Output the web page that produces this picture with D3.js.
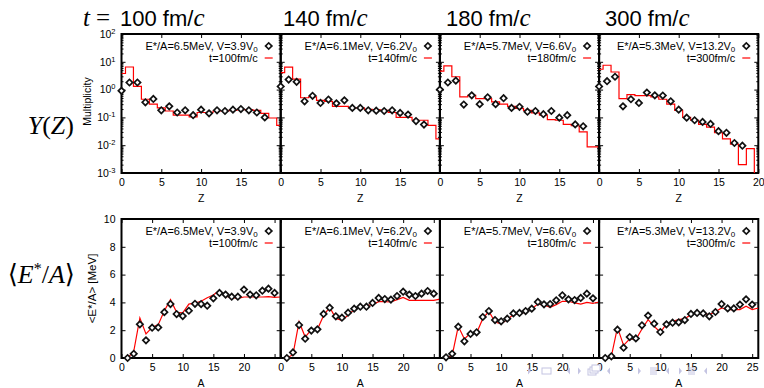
<!DOCTYPE html>
<html>
<head>
<meta charset="utf-8">
<script src="https://cdn.jsdelivr.net/npm/d3@7"></script>
<style>
  body { margin: 0; background: #fff; }
</style>
</head>
<body>
<svg id="chart" width="764" height="388" font-family='"Liberation Sans", Arial, sans-serif'></svg>
<script>
// ---- data ----
const times = ['100', '140', '180', '300'];
const legendE = ['6.5', '6.1', '5.7', '5.3'];
const legendV = ['3.9', '6.2', '6.6', '13.2'];

const zBins = [0, 1, 2, 3, 4, 5, 6, 7, 8, 9, 10, 11, 12, 13, 14, 15, 16, 17, 18, 19, 20];
const zPoints = [0, 1, 2, 3, 4, 5, 6, 7, 8, 9, 10, 11, 12, 13, 14, 15, 16, 17, 18];
const aPoints = [1, 2, 3, 4, 5, 6, 7, 8, 9, 10, 11, 12, 13, 14, 15, 16, 17, 18, 19, 20, 21, 22, 23, 24, 25];
const aLine = [1, 2, 3, 4, 5, 6, 7, 8, 9, 10, 11, 12, 13, 14, 15, 16, 17, 18, 19, 20, 21, 22, 23, 24, 25, 26];

const multTicks = [1e-3, 1e-2, 1e-1, 1, 1e1, 1e2];
const multExp = ['-3', '-2', '-1', '0', '1', '2'];
const zTicks = [0, 5, 10, 15, 20];
const aTicks = [0, 5, 10, 15, 20, 25];
const eTicks = [0, 2, 4, 6, 8, 10];

// multiplicity, diamonds (Z = 0..18)
const multPts1 = [0.9, 1.8, 1.8, 0.35, 0.46, 0.18, 0.25, 0.15, 0.18, 0.12, 0.19, 0.14, 0.18, 0.17, 0.19, 0.2, 0.18, 0.15, 0.10];
const multPts2 = [1.3, 2.3, 1.9, 0.38, 0.6, 0.33, 0.44, 0.32, 0.41, 0.22, 0.22, 0.18, 0.175, 0.17, 0.18, 0.145, 0.126, 0.074, 0.055];
const multPts3 = [1.0, 1.8, 2.1, 0.29, 0.62, 0.3, 0.53, 0.3, 0.49, 0.22, 0.24, 0.16, 0.17, 0.13, 0.17, 0.098, 0.12, 0.056, 0.048];
const multPts4 = [1.3, 2.0, 2.9, 0.25, 0.45, 0.33, 0.78, 0.62, 0.61, 0.38, 0.19, 0.098, 0.079, 0.069, 0.058, 0.032, 0.028, 0.012, 0.0096];

// multiplicity, red histogram (Z = 0..20)
const multHist1 = [3.8, 6.5, 1.3, 0.45, 0.3, 0.22, 0.17, 0.12, 0.12, 0.105, 0.15, 0.15, 0.17, 0.17, 0.18, 0.19, 0.19, 0.18, 0.14, 0.095, 0.052];
const multHist2 = [4.1, 6.4, 2.4, 0.51, 0.55, 0.41, 0.38, 0.25, 0.25, 0.22, 0.22, 0.195, 0.19, 0.18, 0.15, 0.1, 0.1, 0.079, 0.079, 0.052, 0.017];
const multHist3 = [4.6, 7.1, 2.9, 0.55, 0.62, 0.47, 0.47, 0.36, 0.3, 0.25, 0.21, 0.18, 0.145, 0.12, 0.083, 0.079, 0.056, 0.05, 0.03, 0.0087, 0.0087];
const multHist4 = [5.4, 7.5, 4.3, 0.47, 0.66, 0.61, 0.61, 0.55, 0.45, 0.3, 0.18, 0.1, 0.079, 0.056, 0.045, 0.028, 0.017, 0.011, 0.002, 0.0075, 0.0004];

// <E*/A>, diamonds (A = 1..25)
const ePts1 = [0.0, 0.3, 2.42, 1.27, 2.18, 2.2, 3.3, 3.88, 3.16, 3.02, 3.4, 3.9, 3.88, 3.76, 4.29, 4.68, 4.56, 4.41, 4.41, 4.92, 4.56, 4.51, 4.84, 4.99, 4.68];
const ePts2 = [0.0, 0.4, 2.37, 1.39, 1.97, 2.06, 3.17, 3.62, 3.0, 2.9, 3.26, 3.55, 3.69, 3.69, 3.96, 4.32, 4.24, 4.2, 4.46, 4.77, 4.56, 4.46, 4.63, 4.82, 4.63];
const ePts3 = [0.05, 0.3, 2.25, 1.2, 1.73, 1.85, 2.95, 3.38, 2.73, 2.64, 2.83, 3.21, 3.24, 3.38, 3.55, 4.03, 3.86, 3.88, 4.15, 4.51, 4.22, 4.17, 4.32, 4.63, 4.29];
const ePts4 = [0.0, 0.12, 2.04, 0.74, 1.51, 1.41, 2.35, 3.05, 2.47, 1.87, 2.42, 2.54, 2.57, 2.73, 3.17, 3.24, 3.21, 3.0, 3.31, 3.88, 3.57, 3.57, 3.84, 4.22, 3.84];

// <E*/A>, red line (A = 1..26)
const eLine1 = [0, 0.48, 2.88, 1.73, 2.2, 2.4, 3.4, 4.2, 3.29, 3.24, 3.88, 3.96, 4.08, 4.34, 4.53, 4.87, 4.44, 4.36, 4.29, 4.39, 4.39, 4.39, 4.39, 4.41, 4.36, 4.39];
const eLine2 = [0, 0.24, 2.61, 1.51, 2.04, 2.06, 3.05, 3.65, 2.85, 2.71, 3.07, 3.48, 3.65, 3.77, 3.84, 4.05, 4.05, 4.03, 4.2, 4.36, 4.15, 4.15, 4.15, 4.15, 4.15, 4.24];
const eLine3 = [0, 0.17, 2.28, 1.37, 1.8, 1.8, 2.83, 3.36, 2.59, 2.45, 2.76, 3.12, 3.17, 3.31, 3.55, 3.88, 3.81, 3.65, 3.84, 4.08, 4.08, 3.96, 3.88, 4.0, 3.93, 4.03];
const eLine4 = [0, 0.12, 2.2, 0.91, 1.37, 1.32, 2.09, 2.76, 2.28, 1.85, 2.45, 2.64, 2.76, 2.83, 3.12, 3.24, 3.19, 3.12, 3.33, 3.6, 3.48, 3.48, 3.48, 3.72, 3.48, 3.6];

const multPts = [multPts1, multPts2, multPts3, multPts4];
const multHist = [multHist1, multHist2, multHist3, multHist4];
const ePts = [ePts1, ePts2, ePts3, ePts4];
const eLine = [eLine1, eLine2, eLine3, eLine4];

// ---- layout ----
const svg = d3.select('#chart');
const left = 121.5, pw = 159.2;
const topRow = { y: 34, h: 139 }, botRow = { y: 219, h: 139 };
const titleX = [120, 283, 446, 605];
const red = '#ff0000';
const sans = '"Liberation Sans", Arial, sans-serif';
const serif = '"Liberation Serif", "DejaVu Serif", serif';

const xZ = d3.scaleLinear().domain([0, 20]).range([0, pw]);
const xA = d3.scaleLinear().domain([0, 26]).range([0, pw]);
const yM = d3.scaleLog().domain([1e-3, 1e2]).range([topRow.h, 0]);
const yE = d3.scaleLinear().domain([0, 10]).range([botRow.h, 0]);

const diamond = d3.symbol().type(d3.symbolSquare).size(20);

svg.append('defs').append('clipPath').attr('id', 'plotclip')
  .append('rect').attr('x', 0).attr('y', 0).attr('width', pw).attr('height', topRow.h);

function frame(g, x, y, xTicks, yTicks, yMinor, h, showLastX) {
  // mirrored inward ticks, gnuplot style
  const lastX = xTicks[xTicks.length - 1];
  g.append('g').attr('transform', 'translate(0,' + h + ')')
    .call(d3.axisBottom(x).tickValues(xTicks).tickSizeInner(-4).tickSizeOuter(0).tickPadding(6)
      .tickFormat(d => (d === lastX && !showLastX) ? '' : d))
    .call(a => a.select('.domain').remove());
  g.append('g')
    .call(d3.axisTop(x).tickValues(xTicks).tickSizeInner(-4).tickSizeOuter(0).tickFormat(''))
    .call(a => a.select('.domain').remove());
  const yl = g.append('g')
    .call(d3.axisLeft(y).tickValues(yTicks).tickSizeInner(-4).tickSizeOuter(0).tickPadding(6))
    .call(a => a.select('.domain').remove());
  g.append('g').attr('transform', 'translate(' + pw + ',0)')
    .call(d3.axisRight(y).tickValues(yTicks).tickSizeInner(-4).tickSizeOuter(0).tickFormat(''))
    .call(a => a.select('.domain').remove());
  if (yMinor) {
    g.append('g').call(d3.axisLeft(y).tickValues(yMinor).tickSizeInner(-2).tickSizeOuter(0).tickFormat(''))
      .call(a => a.select('.domain').remove());
    g.append('g').attr('transform', 'translate(' + pw + ',0)')
      .call(d3.axisRight(y).tickValues(yMinor).tickSizeInner(-2).tickSizeOuter(0).tickFormat(''))
      .call(a => a.select('.domain').remove());
  }
  g.selectAll('.tick text').attr('font-size', 10.5).attr('font-family', sans);
  g.selectAll('.tick line').attr('stroke', '#000');
  g.append('rect').attr('width', pw).attr('height', h)
    .attr('fill', 'none').attr('stroke', '#000').attr('stroke-width', 2);
  return yl;
}

function dots(g, sel, data, xs, xv, y) {
  g.selectAll(sel).data(data).join('path')
    .attr('d', diamond)
    .attr('transform', (d, k) => 'translate(' + xs(xv[k]) + ',' + y(d) + ') rotate(45)')
    .attr('fill', '#fff').attr('stroke', '#111').attr('stroke-width', 1.7);
}

function legend(g, i) {
  const t1 = g.append('text').attr('x', pw - 23).attr('y', 15.5).attr('text-anchor', 'end').attr('font-size', 11);
  t1.append('tspan').text('E*/A=' + legendE[i] + 'MeV, V=' + legendV[i] + 'V');
  t1.append('tspan').attr('dy', 2.5).attr('font-size', 8).text('0');
  g.append('path').attr('d', diamond).attr('transform', 'translate(' + (pw - 12) + ',12) rotate(45)')
    .attr('fill', '#fff').attr('stroke', '#111').attr('stroke-width', 1.7);
  g.append('text').attr('x', pw - 23).attr('y', 28).attr('text-anchor', 'end').attr('font-size', 11)
    .text('t=' + times[i] + 'fm/c');
  g.append('line').attr('x1', pw - 16).attr('x2', pw - 8).attr('y1', 24).attr('y2', 24)
    .attr('stroke', red).attr('stroke-width', 1.2);
}

const multMinor = yM.ticks().filter(v => !multTicks.includes(v));

times.forEach((t, i) => {
  const px = left + i * pw;

  // ---- top row: Y(Z) ----
  const gt = svg.append('g').attr('transform', 'translate(' + px + ',' + topRow.y + ')');
  const yl = frame(gt, xZ, yM, zTicks, multTicks, multMinor, topRow.h, i === 3);
  if (i === 0) {
    yl.selectAll('.tick text').each(function (d) {
      const s = d3.select(this).text('10');
      s.append('tspan').attr('dy', -4).attr('font-size', 7.5).text(multExp[multTicks.indexOf(d)]);
    });
  } else {
    yl.selectAll('.tick text').remove();
  }

  gt.append('path').datum(multHist[i])
    .attr('clip-path', 'url(#plotclip)')
    .attr('fill', 'none').attr('stroke', red).attr('stroke-width', 1.2)
    .attr('d', d3.line().curve(d3.curveStep).x((d, k) => xZ(zBins[k])).y(d => yM(d)));

  dots(gt, '.pt', multPts[i], xZ, zPoints, yM);
  legend(gt, i);

  gt.append('text').attr('x', pw / 2).attr('y', topRow.h + 29).attr('text-anchor', 'middle')
    .attr('font-size', 10.5).text('Z');

  // ---- bottom row: <E*/A> ----
  const gb = svg.append('g').attr('transform', 'translate(' + px + ',' + botRow.y + ')');
  const ylb = frame(gb, xA, yE, aTicks, eTicks, null, botRow.h, i === 3);
  if (i > 0) ylb.selectAll('.tick text').remove();

  gb.append('path').datum(eLine[i])
    .attr('clip-path', 'url(#plotclip)')
    .attr('fill', 'none').attr('stroke', red).attr('stroke-width', 1.2)
    .attr('d', d3.line().x((d, k) => xA(aLine[k])).y(d => yE(d)));

  dots(gb, '.pt', ePts[i], xA, aPoints, yE);
  legend(gb, i);

  gb.append('text').attr('x', pw / 2).attr('y', botRow.h + 29).attr('text-anchor', 'middle')
    .attr('font-size', 10.5).text('A');

  // ---- time title ----
  const tt = svg.append('text').attr('x', titleX[i]).attr('y', 26).attr('font-size', 22);
  tt.append('tspan').text(t + ' fm/');
  tt.append('tspan').attr('font-family', serif).attr('font-style', 'italic')
    .attr('font-size', 25).text('c');
});

// "t =" prefix of the first title
const pre = svg.append('text').attr('x', 83).attr('y', 26).attr('font-size', 25)
  .attr('font-family', serif);
pre.append('tspan').attr('font-style', 'italic').text('t');
pre.append('tspan').attr('dx', 6).text('=');

// axis titles
svg.append('text').attr('transform', 'translate(91,' + (topRow.y + topRow.h / 2 - 2) + ') rotate(-90)')
  .attr('text-anchor', 'middle').attr('font-size', 10.5).text('Multiplicity');
svg.append('text').attr('transform', 'translate(96,' + (botRow.y + botRow.h / 2) + ') rotate(-90)')
  .attr('text-anchor', 'middle').attr('font-size', 11.5).text('<E*/A> [MeV]');

// row labels, LaTeX style
const yz = svg.append('text').attr('x', 74).attr('y', 134).attr('text-anchor', 'end')
  .attr('font-size', 26).attr('font-family', serif);
yz.append('tspan').attr('font-style', 'italic').text('Y');
yz.append('tspan').text('(');
yz.append('tspan').attr('font-style', 'italic').text('Z');
yz.append('tspan').text(')');

const ea = svg.append('text').attr('x', 75).attr('y', 283).attr('text-anchor', 'end')
  .attr('font-size', 26).attr('font-family', serif);
ea.append('tspan').text('\u27E8');
ea.append('tspan').attr('font-style', 'italic').text('E');
ea.append('tspan').attr('dy', -9).attr('font-size', 16).text('*');
ea.append('tspan').attr('dy', 9).text('/');
ea.append('tspan').attr('font-style', 'italic').text('A');
ea.append('tspan').text('\u27E9');

// beamer navigation symbols
const navC = '#c4c4e2';
const nav = svg.append('g').attr('fill', 'none').attr('stroke', navC).attr('stroke-width', 1);
const navY = 371;
const tri = (x, dir) => nav.append('path').attr('fill', navC).attr('stroke', 'none')
  .attr('d', 'M' + x + ',' + navY + 'l' + (-3 * dir) + ',-3.5v7z');
tri(531, 1); nav.append('rect').attr('x', 542).attr('y', navY - 3).attr('width', 9).attr('height', 6); tri(567, -1);
tri(581, 1);
nav.append('rect').attr('x', 588).attr('y', navY - 2).attr('width', 8).attr('height', 6);
nav.append('rect').attr('x', 590).attr('y', navY - 4).attr('width', 8).attr('height', 6).attr('fill', '#fff');
nav.append('rect').attr('x', 592).attr('y', navY - 6).attr('width', 8).attr('height', 6).attr('fill', '#fff');
tri(607, -1);
[[641, 650], [682, 688]].forEach(([a, b]) => {
  tri(a, 1);
  [-3, -1, 1, 3].forEach(dy => nav.append('line').attr('x1', b).attr('x2', b + 7)
    .attr('y1', navY + dy).attr('y2', navY + dy));
  tri(b + 16, -1);
});
</script>
</body>
</html>
